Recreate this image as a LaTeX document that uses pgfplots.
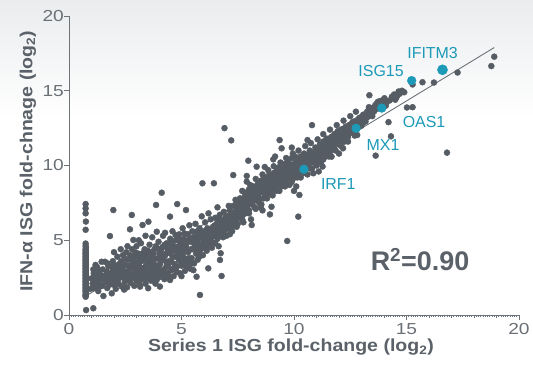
\documentclass[border=0pt]{standalone}
\usepackage{fontspec}
\setmainfont{Liberation Sans}
\newfontfamily\tickfont{Liberation Sans}[FakeStretch=1.2]
\newfontfamily\labfont{Liberation Sans}[FakeStretch=1.12]
\usepackage{pgfplots}
\pgfplotsset{compat=1.18}
\definecolor{dotgray}{RGB}{86,92,99}
\definecolor{isgcyan}{RGB}{28,154,184}
\definecolor{labgray}{RGB}{90,97,104}
\definecolor{tickgray}{RGB}{106,112,118}
\definecolor{axisgray}{RGB}{110,115,120}
\definecolor{bgtop}{RGB}{234,236,238}
\begin{document}
\begin{tikzpicture}
\useasboundingbox (-69bp,-51bp) rectangle (464bp,315bp);
\fill[white] (-69bp,-51bp) rectangle (464bp,315bp);
\shade[top color=bgtop, bottom color=white] (-69bp,195bp) rectangle (464bp,315bp);
\begin{axis}[
  at={(0,0)}, anchor=south west,
  width=450bp, height=299bp, scale only axis,
  xmin=0, xmax=20, ymin=0, ymax=20,
  clip=false,
  axis lines=left,
  axis line style={-, draw=axisgray, line width=0.7pt},
  xtick={0,5,10,15,20}, ytick={0,5,10,15,20},
  minor xtick={1,2,3,4,6,7,8,9,11,12,13,14,16,17,18,19},
  tick align=outside,
  major tick length=4.5bp, minor tick length=3bp,
  every tick/.style={draw=axisgray, line width=0.6pt},
  extra x ticks={0.1,0.2,...,19.95},
  extra x tick labels={},
  extra x tick style={major tick length=1.5bp},
  /pgf/number format/assume math mode=true,
  xticklabel style={font=\tickfont\fontsize{16}{16}\selectfont, text=tickgray, anchor=north, inner sep=0pt, yshift=-3.5bp},
  yticklabel style={font=\tickfont\fontsize{16}{16}\selectfont, text=tickgray, anchor=east, inner sep=0pt, xshift=-0.5bp},
  xlabel={Series 1 ISG fold-change (log\textsubscript{2})},
  ylabel={IFN-α ISG fold-chnage (log\textsubscript{2})},
  xlabel style={at={(axis description cs:0.4933,-0.107)}, anchor=center, font=\labfont\bfseries\fontsize{17.5}{17.5}\selectfont, text=labgray},
  ylabel style={at={(axis description cs:-0.0911,0.515)}, anchor=center, font=\labfont\bfseries\fontsize{17.5}{17.5}\selectfont, text=labgray},
]
% regression line
\addplot[no marks, draw=axisgray, line width=0.9pt] coordinates {(0.7,1.22)(18.9,17.89)};
% all genes
\addplot[only marks, mark=*, mark size=3bp, color=dotgray, mark options={fill=dotgray, draw=none}] coordinates {
(0.74,1.22)(0.74,1.36)(0.75,1.5)(0.74,1.64)(0.74,1.78)(0.75,1.92)(0.74,2.06)(0.74,2.2)(0.75,2.34)(0.74,2.48)(0.74,2.62)(0.75,2.76)(0.74,2.9)(0.74,3.04)(0.75,3.18)(0.74,3.32)(0.74,3.46)(0.75,3.6)(0.74,3.74)(0.74,3.88)(0.75,4.02)(0.74,4.16)(0.74,4.3)(0.75,4.5)(0.74,4.78)(0.74,5.7)(0.75,6.25)(0.74,6.8)(0.74,7.13)(0.74,7.42)(0.76,0.33)(1.08,0.45)
(0.74,1.29)(0.75,1.43)(0.74,1.57)(0.75,1.71)(0.74,1.85)(0.74,1.99)(0.75,2.13)(0.74,2.27)(0.74,2.41)(0.75,2.55)(0.74,2.69)(0.74,2.83)(0.75,2.97)(0.74,3.11)(0.74,3.25)(0.75,3.39)(0.74,3.53)(0.74,3.67)(0.75,3.81)(0.74,3.95)(0.74,4.09)(0.75,4.23)(0.74,4.4)(0.74,4.62)
(0.95,1.75)(1.0,2.45)(1.08,1.79)(1.08,3.05)(1.05,2.1)(1.1,2.8)(1.15,2.3)(1.2,1.95)(1.22,2.6)(1.25,3.2)(1.3,2.1)(1.35,2.75)(1.4,2.35)(1.45,3.56)(1.48,1.95)(1.53,1.27)(1.55,2.6)(1.6,3.56)(1.62,2.2)(1.68,2.9)(1.7,1.8)(1.75,3.25)(1.8,2.45)(1.82,5.28)(1.85,2.05)(1.9,1.45)(1.92,2.9)(1.95,3.6)(1.97,7.02)(2.0,2.3)(2.05,3.3)(2.08,1.75)(2.12,2.7)(2.15,3.9)(2.2,2.1)(2.25,3.05)(2.28,2.5)(2.32,3.6)(2.35,1.9)(2.4,4.0)(2.42,2.8)(2.48,2.2)(2.5,3.35)(2.55,4.2)(2.58,1.85)(2.6,2.6)(2.65,3.7)(2.68,3.05)(2.71,5.73)(2.74,2.15)(2.79,6.69)(2.8,4.4)(2.82,3.4)(2.85,2.5)(2.86,5.02)(2.9,1.95)(2.92,3.9)(2.95,2.9)(3.0,4.6)(3.0,2.3)(3.04,3.5)(3.08,2.7)(3.1,4.1)(3.16,1.9)(3.18,3.15)(3.2,4.8)(3.24,2.4)(3.27,6.02)(3.3,3.7)(3.33,2.8)(3.36,4.4)(3.4,2.1)(3.42,3.3)(3.46,4.0)(3.5,2.6)(3.52,1.79)(3.53,6.24)(3.55,3.6)(3.58,4.7)(3.6,3.0)(3.64,2.3)(3.7,3.9)(3.7,5.2)(3.74,2.8)(3.78,3.4)(3.8,4.4)(3.84,2.1)(3.87,7.36)(3.9,5.57)(3.9,3.1)(3.95,3.8)(3.98,4.9)(4.0,2.6)(4.04,1.9)(4.05,3.4)(4.08,4.3)(4.12,8.18)(4.14,2.9)(4.18,5.3)(4.2,3.7)(4.24,2.4)(4.27,5.5)(4.3,4.1)(4.32,3.2)(4.35,4.8)(4.4,2.8)(4.44,3.6)(4.49,6.58)(4.49,2.34)(4.5,5.1)(4.52,4.4)(4.55,3.0)(4.6,3.9)(4.6,5.6)(4.65,2.6)(4.68,4.6)(4.7,3.4)(4.75,5.0)(4.78,2.9)(4.81,7.42)(4.85,4.2)(4.88,3.7)(4.93,2.79)(4.9,5.4)(4.95,4.8)(5.0,3.3)(5.0,4.4)(5.05,5.8)(5.08,3.9)(5.1,5.1)(5.15,2.95)(5.2,7.02)(5.2,4.6)(5.25,3.5)(5.28,5.4)(5.3,4.2)(5.35,6.0)(5.38,3.1)(5.4,4.9)(5.45,3.8)(5.48,5.6)(5.5,4.4)(5.53,3.0)(5.56,3.45)(5.6,5.0)(5.62,6.1)(5.65,4.1)(5.67,2.56)(5.7,5.3)(5.72,3.7)(5.75,4.7)(5.79,3.9)(5.8,5.8)(5.82,1.34)(5.85,4.4)(5.9,5.2)(5.93,8.81)(5.95,4.0)(6.0,5.6)(6.0,4.8)(6.05,6.2)(6.1,5.0)(6.12,4.3)(6.15,5.8)(6.19,3.12)(6.2,4.6)(6.25,5.4)(6.3,6.4)(6.3,5.0)(6.35,4.5)(6.4,5.9)(6.44,8.81)(6.45,5.3)(6.5,6.5)(6.5,4.8)(6.55,5.7)(6.6,6.2)(6.6,5.1)(6.65,4.6)(6.7,6.7)(6.71,3.68)(6.74,4.13)(6.75,5.5)(6.78,2.61)(6.8,6.0)(6.85,5.2)(6.88,6.9)(6.9,6.4)(6.91,12.5)(6.95,5.7)(7.0,6.2)(7.0,5.3)
(1.12,2.55)(1.18,3.35)(1.28,2.45)(1.32,2.9)(1.38,1.9)(1.42,2.65)(1.5,3.05)(1.58,2.4)(1.65,2.65)(1.72,3.45)(1.78,2.15)(1.88,2.7)(1.9,3.25)(1.98,2.55)(2.02,2.0)(2.1,3.05)(2.18,2.45)(2.22,3.4)(2.3,2.85)(2.38,3.2)(2.45,2.5)(2.52,3.75)(2.57,2.35)(2.66,2.85)(2.72,4.0)(2.8,2.7)(2.88,3.55)(2.94,4.2)(3.02,3.05)(3.1,2.45)(3.15,3.85)(3.22,2.9)(3.3,4.15)(3.35,3.15)(3.45,2.45)(3.5,4.3)(3.58,2.75)(3.65,3.7)(3.75,4.1)(3.85,2.95)(3.95,4.45)(4.05,3.0)(4.12,3.9)(4.25,4.7)(4.4,3.3)(4.55,4.65)
(2.3,4.4)(2.6,4.6)(3.1,5.0)(3.4,5.3)(2.0,4.2)(1.3,1.6)(2.45,1.7)(3.9,2.35)(4.3,2.7)(5.0,2.6)
(7.05,6.6)(7.1,5.8)(7.15,7.0)(7.21,11.68)(7.2,6.3)(7.25,5.6)(7.3,6.8)(7.3,7.3)(7.3,9.36)(7.35,6.0)(7.4,6.5)(7.45,7.5)(7.5,6.8)(7.5,6.1)(7.55,7.2)(7.6,6.6)(7.6,7.8)(7.65,7.0)(7.7,6.4)(7.75,7.6)(7.8,7.1)(7.8,8.2)(7.85,6.8)(7.9,7.9)(7.9,8.92)(7.95,7.4)(7.97,10.32)(8.0,8.4)(8.0,7.0)(8.05,7.7)(8.09,6.4)(8.1,8.1)(8.12,6.02)(8.15,7.4)(8.2,8.6)(8.2,7.9)(8.25,7.2)(8.3,8.3)(8.34,9.92)(8.35,7.7)(8.4,8.8)(8.4,8.0)(8.45,7.5)(8.5,8.5)(8.52,7.2)(8.55,9.0)(8.6,8.2)(8.65,7.8)(8.7,8.7)(8.7,9.2)(8.75,8.0)(8.8,8.9)(8.85,8.4)(8.9,9.4)(8.93,6.73)(8.95,8.1)(9.0,7.24)(9.0,8.7)(9.0,9.1)(9.05,8.4)(9.08,10.41)(9.1,9.5)(9.15,8.9)(9.16,10.6)(9.2,8.3)(9.2,9.3)(9.25,9.7)(9.3,8.7)(9.3,9.0)(9.35,9.9)(9.36,11.7)(9.4,9.4)(9.45,11.15)(9.45,8.6)(9.5,9.2)(9.5,9.8)(9.55,8.9)(9.6,10.1)(9.6,9.5)(9.65,9.0)(9.7,4.95)(9.7,9.8)(9.75,10.3)(9.8,9.3)(9.8,8.7)(9.85,9.9)(9.9,10.5)(9.9,9.6)(9.95,9.1)(10.0,10.1)(10.0,9.4)(10.05,10.6)(10.1,9.8)(10.1,8.6)(10.15,10.3)(10.19,6.58)(10.2,9.5)(10.24,8.03)(10.25,10.0)(10.3,10.6)(10.3,9.2)(10.35,10.2)(10.4,9.6)(10.45,10.8)(10.5,10.4)(10.5,9.9)(10.55,10.1)(10.6,10.7)(10.6,9.4)(10.65,10.4)(10.7,11.0)(10.75,10.2)(10.8,12.7)(10.8,10.6)(10.8,9.8)(10.86,9.48)(10.9,10.9)(10.9,10.4)(10.95,11.2)(11.0,10.7)(11.0,10.1)(11.05,11.0)(11.1,10.5)(11.15,11.4)(11.2,10.8)(11.2,10.2)(11.25,11.1)(11.27,9.93)(11.3,11.6)(11.35,10.9)(11.4,11.3)(11.4,10.6)(11.45,11.8)(11.5,11.1)(11.55,11.5)(11.6,10.9)(11.65,11.9)(11.67,10.59)(11.7,11.3)(11.75,11.7)(11.8,11.1)(11.8,12.1)(11.85,11.5)(11.9,11.9)(11.95,12.3)(12.0,11.4)(12.0,12.0)(12.05,11.7)(12.1,12.4)(12.15,11.9)(12.18,11.15)(12.2,12.2)(12.25,11.6)(12.3,12.6)(12.3,12.0)(12.35,12.3)(12.4,11.9)(12.45,12.7)(12.5,12.2)(12.55,12.5)(12.6,12.9)(12.65,12.3)(12.7,12.7)(12.81,12.04)(12.85,13.1)(12.9,12.6)(12.95,13.0)(13.0,12.7)(13.05,13.3)(13.1,12.9)(13.2,13.2)(13.25,13.6)(13.35,14.7)(13.33,13.9)(13.4,13.4)(13.45,13.8)(13.55,13.6)(13.6,14.0)(13.63,10.66)(13.7,13.8)(13.8,14.3)(13.85,14.0)(14.0,14.2)(14.1,14.2)(14.2,12.9)(14.31,11.95)(14.4,14.5)(14.5,14.4)(14.6,14.7)(14.7,14.8)(14.9,14.9)(15.02,13.88)(15.27,13.9)(15.27,15.42)(15.71,15.57)(16.22,15.55)(17.27,16.22)(18.77,16.65)(18.9,17.28)(16.8,10.86)
(2.52,2.9)(2.62,3.3)(2.7,2.4)(2.77,3.75)(2.88,3.15)(2.97,2.6)(3.02,3.9)(3.12,3.3)(3.14,2.05)(3.22,3.6)(3.28,2.6)(3.38,3.9)(3.44,2.95)(3.48,3.45)
(3.56,2.45)(3.62,3.35)(3.66,4.2)(3.72,3.15)(3.76,2.55)(3.82,3.75)(3.86,4.6)(3.92,2.75)(3.97,3.3)(4.02,4.1)(4.06,3.65)(4.1,2.55)(4.16,4.55)(4.22,3.05)(4.26,3.95)(4.34,3.5)(4.38,4.4)(4.42,2.6)(4.46,4.15)
(4.56,3.55)(4.58,4.85)(4.62,3.1)(4.66,4.3)(4.72,3.9)(4.74,5.35)(4.8,3.25)(4.82,4.55)(4.86,5.1)(4.92,4.0)(4.97,3.55)(5.02,4.75)(5.06,4.15)(5.12,3.6)(5.14,5.45)(5.18,4.35)(5.22,3.25)(5.26,4.9)(5.32,3.8)(5.36,5.1)(5.42,4.4)(5.44,3.45)
(5.52,5.2)(5.58,4.7)(5.64,5.55)(5.68,4.35)(5.74,5.05)(5.78,4.15)(5.84,5.45)(5.88,4.7)(5.96,5.05)(6.02,4.5)(6.08,5.35)(6.14,4.75)(6.18,5.55)(6.22,5.1)(6.28,5.75)(6.34,5.25)(6.38,4.85)(6.42,5.55)(6.48,6.0)
(6.54,5.4)(6.58,5.9)(6.62,6.5)(6.68,5.35)(6.72,6.1)(6.78,5.75)(6.82,6.35)(6.86,5.5)(6.92,6.05)(6.98,6.6)(7.02,5.9)(7.08,6.4)(7.12,6.1)(7.18,6.7)(7.22,5.9)(7.28,6.55)(7.32,6.2)(7.38,6.9)(7.42,6.3)(7.48,7.1)
(7.52,6.5)(7.58,7.45)(7.62,6.85)(7.68,7.3)(7.72,6.7)(7.78,7.85)(7.82,7.35)(7.88,7.65)(7.92,7.15)(7.98,8.1)(8.02,7.55)(8.08,7.85)(8.12,8.3)(8.18,7.6)(8.22,8.15)(8.28,7.85)(8.32,8.55)(8.38,7.95)(8.42,8.35)(8.48,7.8)
(8.52,8.75)(8.58,8.3)(8.62,8.95)(8.68,8.5)(8.72,8.1)(8.78,8.65)(8.82,9.15)(8.88,8.75)(8.92,8.35)(8.98,8.95)(9.02,9.35)(9.08,8.7)(9.12,9.15)(9.18,8.65)(9.22,9.0)(9.28,9.5)(9.32,9.2)(9.38,8.85)(9.42,9.6)(9.48,9.05)
(9.52,9.55)(9.58,9.3)(9.62,9.75)(9.68,9.45)(9.72,9.15)(9.78,9.6)(9.82,10.05)(9.88,9.4)(9.92,9.8)(9.98,9.55)(10.02,9.9)(10.08,10.2)(10.12,9.65)(10.18,10.0)(10.22,10.35)(10.28,9.8)(10.32,10.05)(10.38,9.9)(10.42,10.45)(10.48,10.15)
(10.52,10.55)(10.58,10.25)(10.62,10.0)(10.68,10.6)(10.72,10.4)(10.78,10.85)(10.82,10.3)(10.88,10.65)(10.92,10.2)(10.98,10.95)(11.02,10.45)(11.08,10.8)(11.12,11.1)(11.18,10.55)(11.22,11.0)(11.28,11.3)(11.32,10.75)(11.38,11.15)(11.42,11.5)(11.48,10.9)
(11.52,11.3)(11.58,11.7)(11.62,11.15)(11.68,11.5)(11.72,11.95)(11.78,11.4)(11.82,11.75)(11.88,12.15)(11.92,11.6)(11.98,11.85)(12.02,12.2)(12.08,11.65)(12.12,12.0)(12.18,12.45)(12.22,11.85)(12.28,12.25)(12.32,11.75)(12.38,12.5)(12.42,12.1)(12.48,12.4)
(12.52,12.75)(12.58,12.2)(12.62,12.55)(12.68,12.95)(12.72,12.4)(12.78,12.8)(12.82,12.5)(12.88,12.85)(12.92,13.2)(12.98,12.65)(13.02,13.05)(13.08,13.4)(13.12,13.1)(13.18,12.95)(13.22,13.45)(13.28,13.25)(13.32,13.7)(13.42,13.55)(13.48,13.3)(13.52,13.85)(13.58,13.7)(13.65,14.1)(13.72,14.25)(13.78,14.0)(13.92,14.35)(14.02,14.5)(14.08,14.0)(14.25,14.35)(14.35,14.6)(14.45,14.75)(14.55,14.55)(14.65,14.95)(14.8,15.0)
(7.1,7.3)(7.4,7.7)(7.7,8.3)(8.05,8.7)(8.3,9.1)(8.6,9.4)(8.85,9.7)(9.1,9.95)(9.4,10.2)(9.65,10.5)(9.95,10.8)(10.2,11.0)(10.5,11.3)(10.75,11.5)(11.05,11.75)(11.3,12.1)(11.6,12.4)(11.9,12.7)(12.2,13.0)(12.5,13.3)(12.75,13.6)
(7.15,5.4)(7.45,5.9)(7.75,6.2)(8.0,6.8)(8.3,7.1)(8.55,7.4)(8.8,7.8)(9.05,8.0)(9.35,8.3)(9.6,8.6)(9.9,8.9)(10.15,9.2)(10.45,9.5)(10.7,9.8)(11.0,10.0)(11.3,10.4)(11.55,10.6)(11.85,11.0)(12.1,11.3)(12.4,11.6)(12.7,12.0)
(8.7,9.9)(9.9,11.2)(10.6,11.7)(6.2,6.8)(5.9,6.6)(6.6,7.2)(7.9,9.3)(10.0,8.3)(11.1,9.6)(8.6,7.0)(12.0,10.8)
};
% highlighted ISGs
\addplot[only marks, mark=*, mark size=4.4bp, color=isgcyan, mark options={fill=isgcyan, draw=none}] coordinates {
(15.23,15.68)(13.9,13.84)(12.76,12.49)(10.44,9.75)
};
\addplot[only marks, mark=*, mark size=5.1bp, color=isgcyan, mark options={fill=isgcyan, draw=none}] coordinates {
(16.6,16.4)
};
\node[text=isgcyan, font=\fontsize{16}{16}\selectfont] at (axis cs:16.16,17.5) {IFITM3};
\node[text=isgcyan, font=\fontsize{16}{16}\selectfont] at (axis cs:13.87,16.32) {ISG15};
\node[text=isgcyan, font=\fontsize{16}{16}\selectfont] at (axis cs:15.78,12.93) {OAS1};
\node[text=isgcyan, font=\fontsize{16}{16}\selectfont] at (axis cs:13.96,11.4) {MX1};
\node[text=isgcyan, font=\fontsize{16}{16}\selectfont] at (axis cs:11.97,8.73) {IRF1};
\node[text=labgray, font=\bfseries\fontsize{27}{27}\selectfont] at (axis cs:15.6,3.68) {R\textsuperscript{2}=0.90};
\end{axis}
\end{tikzpicture}
\end{document}
